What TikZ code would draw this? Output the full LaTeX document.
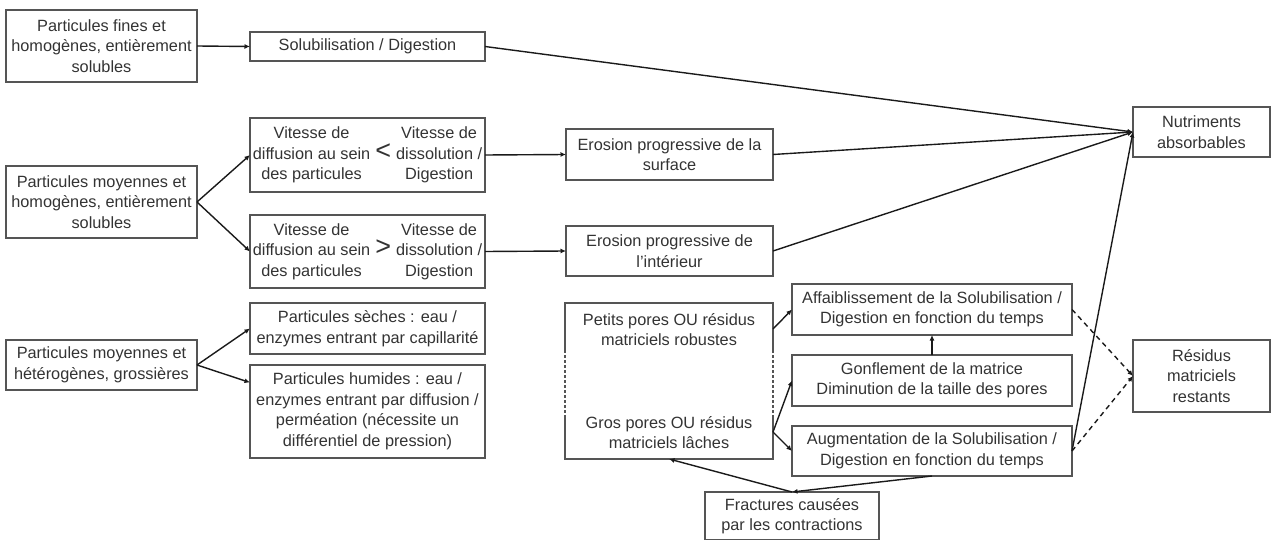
\documentclass[tikz,border=0pt]{standalone}
\usepackage{fontspec}
\setmainfont{Liberation Sans}
\usetikzlibrary{arrows.meta, positioning}

\definecolor{boxgray}{HTML}{555555}
\definecolor{txtgray}{HTML}{333333}
\definecolor{linegray}{HTML}{1A1A1A}

\tikzset{
  box/.style={draw=boxgray, line width=1.2pt, align=center, inner sep=0pt, outer sep=0pt,
    text=txtgray, font=\fontsize{16.3}{20.5}\selectfont},
  boxline/.style={draw=boxgray, line width=1.2pt},
  arr/.style={-{Latex[length=5.5pt,width=5pt]}, draw=linegray, line width=1.4pt},
  darr/.style={arr, dash pattern=on 5pt off 4pt},
}

\newcommand{\cmpsign}[1]{\smash{\fontsize{27}{20}\selectfont #1}}

\begin{document}
\begin{tikzpicture}[x=1pt, y=-1pt]
\useasboundingbox (0,0) rectangle (1271,540);

% colonne de gauche
\node[box, minimum width=191pt, minimum height=72pt] (fines) at (101.5,46)
  {Particules fines et\\homogènes, entièrement\\solubles};
\node[box, minimum width=191pt, minimum height=72pt] (moyhom) at (101.5,202)
  {Particules moyennes et\\homogènes, entièrement\\solubles};
\node[box, minimum width=191pt, minimum height=50pt] (hetero) at (101.5,365)
  {Particules moyennes et\\hétérogènes, grossières};

% deuxieme colonne
\node[box, minimum width=235pt, minimum height=29pt] (solub) at (367.5,46.5)
  {Solubilisation / Digestion};
\node[box, minimum width=235pt, minimum height=74pt] (inf) at (367.5,155)
  {\begin{tabular}{@{}c@{\hspace{5pt}}c@{\hspace{5pt}}c@{}}
   Vitesse de & & Vitesse de\\
   diffusion au sein & \cmpsign{<} & dissolution /\\
   des particules & & Digestion
   \end{tabular}};
\node[box, minimum width=235pt, minimum height=73pt] (sup) at (367.5,251.5)
  {\begin{tabular}{@{}c@{\hspace{5pt}}c@{\hspace{5pt}}c@{}}
   Vitesse de & & Vitesse de\\
   diffusion au sein & \cmpsign{>} & dissolution /\\
   des particules & & Digestion
   \end{tabular}};
\node[box, minimum width=235pt, minimum height=51pt] (seches) at (367.5,328.5)
  {Particules sèches : eau /\\enzymes entrant par capillarité};
\node[box, minimum width=235pt, minimum height=93pt] (humides) at (367.5,411.5)
  {Particules humides : eau /\\enzymes entrant par diffusion /\\perméation (nécessite un\\différentiel de pression)};

% erosion
\node[box, minimum width=207pt, minimum height=51pt] (erosurf) at (669.5,154.5)
  {Erosion progressive de la\\surface};
\node[box, minimum width=207pt, minimum height=50pt] (eroint) at (669.5,251)
  {Erosion progressive de\\l'intérieur};

% pores (bord en partie pointille)
\node[box, draw=none, minimum width=208pt, minimum height=156pt] (pores) at (669,381)
  {Petits pores OU résidus\\matriciels robustes\\[62pt]Gros pores OU résidus\\matriciels lâches};
\draw[boxline] ([yshift=-47pt]pores.north west) |- (pores.north east) -- ([yshift=-47pt]pores.north east);
\draw[boxline] ([yshift=44pt]pores.south west) |- (pores.south east) -- ([yshift=44pt]pores.south east);
\draw[boxline, densely dashed] ([yshift=-47pt]pores.north west) -- ([yshift=44pt]pores.south west);
\draw[boxline, densely dashed] ([yshift=-47pt]pores.north east) -- ([yshift=44pt]pores.south east);

\node[box, minimum width=280pt, minimum height=51pt] (affaib) at (932,309.5)
  {Affaiblissement de la Solubilisation /\\Digestion en fonction du temps};
\node[box, minimum width=280pt, minimum height=51pt] (gonfl) at (932,380.5)
  {Gonflement de la matrice\\Diminution de la taille des pores};
\node[box, minimum width=280pt, minimum height=50pt] (augm) at (932,451)
  {Augmentation de la Solubilisation /\\Digestion en fonction du temps};
\node[box, minimum width=174pt, minimum height=48pt] (fract) at (792,516)
  {Fractures causées\\par les contractions};

% sorties
\node[box, minimum width=137pt, minimum height=50pt] (nutri) at (1201.5,132)
  {Nutriments\\absorbables};
\node[box, minimum width=137pt, minimum height=72pt] (residus) at (1201.5,376)
  {Résidus\\matriciels\\restants};

% fleches
\draw[arr] (fines.east) -- (solub.west);
\draw[arr] (moyhom.east) -- (inf.west);
\draw[arr] (moyhom.east) -- (sup.west);
\draw[arr] (inf.east) -- (erosurf.west);
\draw[arr] (sup.east) -- (eroint.west);
\draw[arr] (hetero.east) -- (seches.west);
\draw[arr] (hetero.east) -- ([yshift=29pt]humides.west);

\draw[arr] (solub.east) -- (nutri.west);
\draw[arr] (erosurf.east) -- (nutri.west);
\draw[arr] (eroint.east) -- (nutri.west);
\draw[arr] (augm.east) -- (nutri.west);

\draw[arr] ([yshift=-26pt]pores.north east) -- (affaib.west);
\draw[arr] ([yshift=27pt]pores.south east) -- (gonfl.west);
\draw[arr] ([yshift=27pt]pores.south east) -- (augm.west);
\draw[arr] (gonfl.north) -- (affaib.south);
\draw[arr] (augm.south) -- (fract.north);
\draw[arr] (fract.north) -- (pores.south);

\draw[darr] (affaib.east) -- (residus.west);
\draw[darr] (augm.east) -- (residus.west);
\end{tikzpicture}
\end{document}
